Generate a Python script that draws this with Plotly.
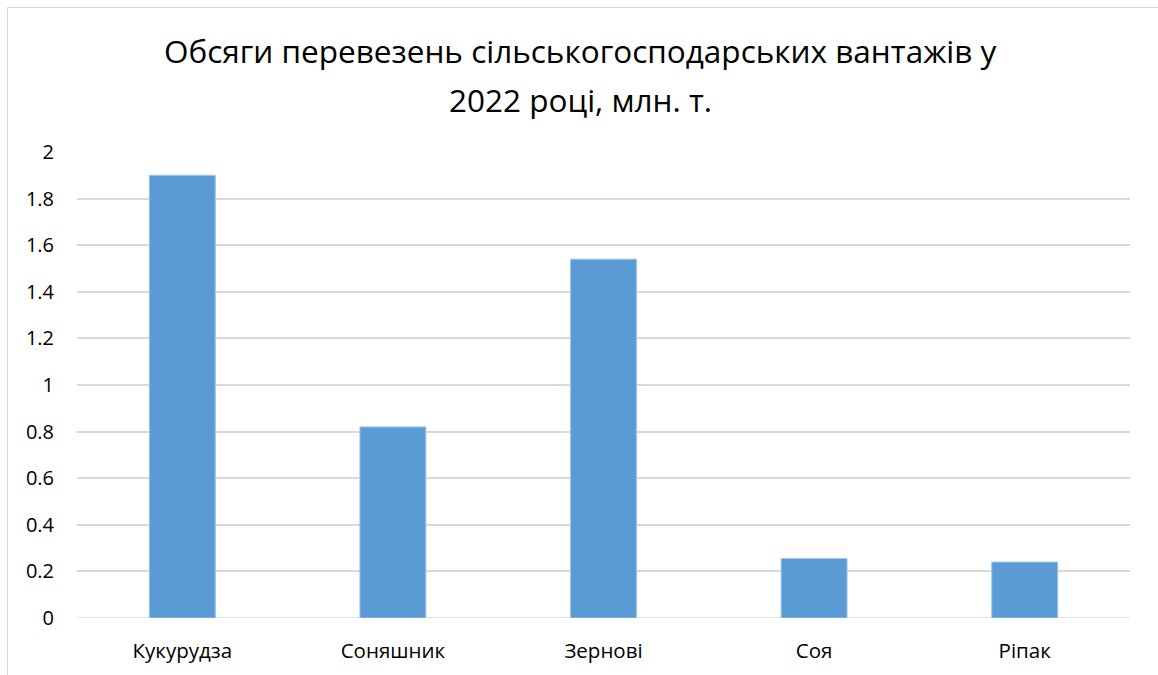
import plotly.graph_objects as go

categories = ["Кукурудза", "Соняшник", "Зернові", "Соя", "Ріпак"]
values = [1.9, 0.82, 1.54, 0.255, 0.24]
title_lines = ["Обсяги перевезень сільськогосподарських вантажів у", "2022 році, млн. т."]

W, H = 1158, 675
ml, mr, mt, mb = 77, 28, 152, 57
pw = W - ml - mr
ph = H - mt - mb

def px_to_paper_x(px):
    return (px - ml) / pw

def py_to_paper_y(py):
    return (H - mb - py) / ph

fig = go.Figure(
    go.Bar(
        x=categories,
        y=values,
        marker=dict(color="#5B9BD5", line=dict(color="#9DC3E6", width=1)),
    )
)

title_y_px = [51, 100]
annotations = [
    dict(
        text=line,
        xref="paper",
        yref="paper",
        x=px_to_paper_x(580),
        y=py_to_paper_y(ypx),
        xanchor="center",
        yanchor="middle",
        showarrow=False,
        font=dict(size=31.5, color="#000000", family="Open Sans, Noto Sans, sans-serif"),
    )
    for line, ypx in zip(title_lines, title_y_px)
]

fig.update_layout(
    width=W,
    height=H,
    margin=dict(l=ml, r=mr, t=mt, b=mb),
    paper_bgcolor="white",
    plot_bgcolor="white",
    bargap=0.687,
    showlegend=False,
    font=dict(family="Open Sans, Noto Sans, sans-serif", color="#000000"),
    annotations=annotations,
    xaxis=dict(
        showgrid=False,
        showline=False,
        zeroline=False,
        ticks="",
        tickfont=dict(size=20.5, color="#000000"),
        ticklabelstandoff=18,
    ),
    yaxis=dict(
        range=[0, 2],
        dtick=0.2,
        tick0=0,
        showgrid=True,
        gridcolor="#D9D9D9",
        gridwidth=1.5,
        zeroline=False,
        showline=False,
        ticks="",
        tickfont=dict(size=20, color="#000000"),
        ticklabelstandoff=22,
    ),
    shapes=[
        dict(
            type="rect",
            xref="paper",
            yref="paper",
            x0=px_to_paper_x(7.5),
            x1=px_to_paper_x(1170),
            y0=py_to_paper_y(690),
            y1=py_to_paper_y(7.5),
            line=dict(color="#D9D9D9", width=1),
            fillcolor="rgba(0,0,0,0)",
            layer="below",
        ),
        dict(
            type="line",
            xref="paper",
            yref="y",
            x0=0,
            x1=1,
            y0=0,
            y1=0,
            line=dict(color="#D9D9D9", width=1.5),
            layer="below",
        ),
    ],
)

fig.write_html(
    "out.html",
    config={"displayModeBar": False},
    post_script="document.body.style.margin='0';document.body.style.overflow='hidden';",
)
